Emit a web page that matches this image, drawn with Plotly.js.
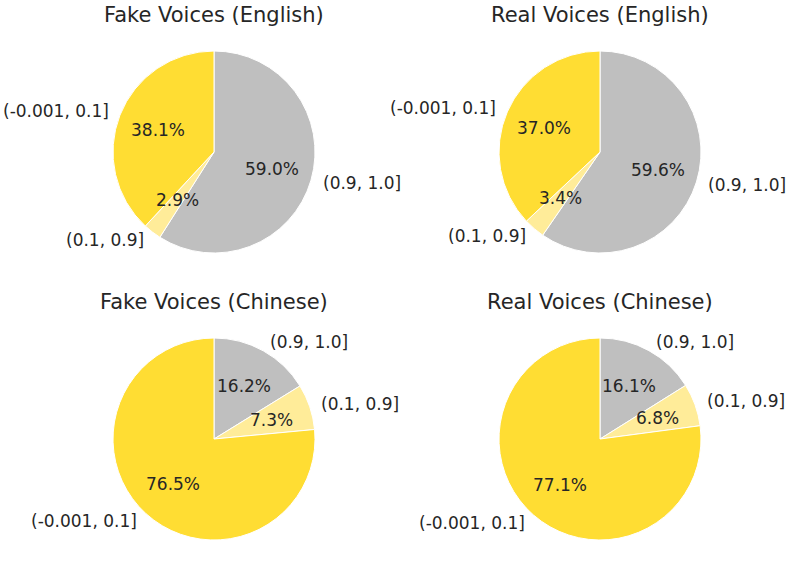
<!DOCTYPE html>
<html>
<head>
<meta charset="utf-8">
<script src="https://cdn.plot.ly/plotly-3.0.1.min.js"></script>
<style>body{margin:0;background:#fff}</style>
</head>
<body>
<div id="chart" style="width:789px;height:571px"></div>
<script>
const bins = ['(-0.001, 0.1]', '(0.1, 0.9]', '(0.9, 1.0]'];
const titles = ['Fake Voices (English)', 'Real Voices (English)', 'Fake Voices (Chinese)', 'Real Voices (Chinese)'];
const fakeEnglish = [38.1, 2.9, 59.0];
const realEnglish = [37.0, 3.4, 59.6];
const fakeChinese = [76.5, 7.3, 16.2];
const realChinese = [77.1, 6.8, 16.1];
const colors = ['#ffdd33', '#ffec99', '#bfbfbf'];

const W = 789, H = 571, R = 101;
const centers = [[214, 152], [600, 152], [214, 439], [600, 439]];
const series = [fakeEnglish, realEnglish, fakeChinese, realChinese];
const txt = '#262626';

const data = [];
const annotations = [];
series.forEach((vals, k) => {
  const [cx, cy] = centers[k];
  // matplotlib goes counterclockwise from 12 o'clock; same thing as
  // clockwise from 12 with the order reversed
  data.push({
    type: 'pie',
    labels: bins.slice().reverse(),
    values: vals.slice().reverse(),
    sort: false,
    direction: 'clockwise',
    rotation: 0,
    textinfo: 'none',
    hoverinfo: 'label+percent',
    showlegend: false,
    marker: {colors: colors.slice().reverse(), line: {color: '#fff', width: 1}},
    domain: {x: [(cx - R) / W, (cx + R) / W], y: [1 - (cy + R) / H, 1 - (cy - R) / H]}
  });
  annotations.push({
    text: titles[k], xref: 'paper', yref: 'paper', showarrow: false,
    x: cx / W, y: 1 - (cy - 137) / H, xanchor: 'center', yanchor: 'middle',
    font: {size: 21, color: txt}
  });
  // percent labels at 0.6r, bin labels at 1.1r, like matplotlib
  const total = vals.reduce((a, b) => a + b, 0);
  let start = 90;
  vals.forEach((v, i) => {
    const mid = (start + v / total * 180) * Math.PI / 180;
    start += v / total * 360;
    const c = Math.cos(mid), s = Math.sin(mid);
    annotations.push({
      text: (v / total * 100).toFixed(1) + '%', xref: 'paper', yref: 'paper', showarrow: false,
      x: (cx + 0.6 * R * c) / W, y: 1 - (cy - 0.6 * R * s) / H,
      xanchor: 'center', yanchor: 'middle', font: {size: 17, color: txt}
    });
    annotations.push({
      text: bins[i], xref: 'paper', yref: 'paper', showarrow: false,
      x: (cx + 1.1 * R * c) / W, y: 1 - (cy - 1.1 * R * s) / H,
      xanchor: c > 0 ? 'left' : 'right', yanchor: 'middle', font: {size: 17, color: txt}
    });
  });
});

const layout = {
  width: W,
  height: H,
  margin: {l: 0, r: 0, t: 0, b: 0},
  paper_bgcolor: '#fff',
  font: {family: 'DejaVu Sans', color: txt},
  annotations: annotations
};
Plotly.newPlot('chart', data, layout, {displayModeBar: false});
</script>
</body>
</html>
